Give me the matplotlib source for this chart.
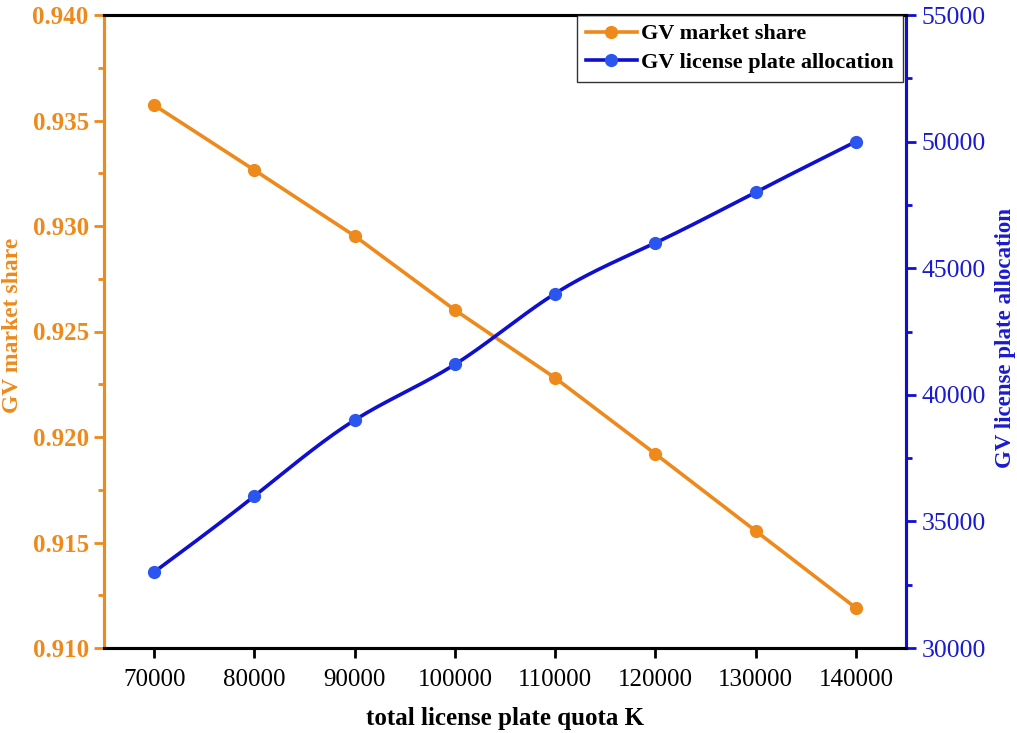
import numpy as np
import matplotlib
matplotlib.use("Agg")
import matplotlib.pyplot as plt
from matplotlib.ticker import MultipleLocator

quota = [70000, 80000, 90000, 100000, 110000, 120000, 130000, 140000]
market_share = [0.93573, 0.93265, 0.92953, 0.92602, 0.92280, 0.91920, 0.91555, 0.91190]
allocation = [33000, 36000, 39000, 41200, 44000, 46000, 48000, 50000]

ORANGE = "#EE8A1C"
BLUE_LINE = "#0F0FD0"
BLUE_MARK = "#2A55EE"
BLUE_TXT = "#1A1AD0"

plt.rcParams['font.family'] = ['Liberation Serif', 'DejaVu Serif']


def natural_spline(x, y, n=400):
    x = np.asarray(x, float); y = np.asarray(y, float)
    k = len(x); h = np.diff(x)
    A = np.zeros((k, k)); b = np.zeros(k)
    A[0, 0] = A[-1, -1] = 1
    for i in range(1, k - 1):
        A[i, i - 1] = h[i - 1]; A[i, i] = 2 * (h[i - 1] + h[i]); A[i, i + 1] = h[i]
        b[i] = 3 * ((y[i + 1] - y[i]) / h[i] - (y[i] - y[i - 1]) / h[i - 1])
    c = np.linalg.solve(A, b)
    xs = np.linspace(x[0], x[-1], n); ys = np.empty_like(xs)
    for j, xv in enumerate(xs):
        i = min(np.searchsorted(x, xv, side='right') - 1, k - 2)
        dx = xv - x[i]
        bi = (y[i + 1] - y[i]) / h[i] - h[i] * (2 * c[i] + c[i + 1]) / 3
        di = (c[i + 1] - c[i]) / (3 * h[i])
        ys[j] = y[i] + bi * dx + c[i] * dx ** 2 + di * dx ** 3
    return xs, ys


W, H = 1017, 733
fig = plt.figure(figsize=(W / 100, H / 100), dpi=100)
ax = fig.add_axes([104 / W, 1 - 648 / H, 802 / W, 633 / H])
ax2 = ax.twinx()

l1, = ax.plot(quota, market_share, color=ORANGE, lw=2.6, marker='o', ms=8.5,
              markerfacecolor=ORANGE, markeredgecolor=ORANGE, label='GV market share', zorder=3)
xs, ys = natural_spline(quota, allocation)
ax2.plot(xs, ys, color=BLUE_LINE, lw=2.6, zorder=3)
ax2.plot(quota, allocation, ls='none', marker='o', ms=8.5, color=BLUE_MARK, zorder=4)
l2, = ax2.plot([], [], color=BLUE_LINE, lw=2.6, marker='o', ms=8.5,
               markerfacecolor=BLUE_MARK, markeredgecolor=BLUE_MARK, label='GV license plate allocation')

ax.set_xlim(65000, 145000)
ax.set_ylim(0.910, 0.940)
ax2.set_ylim(30000, 55000)
ax.set_xticks(quota)
ax.yaxis.set_major_locator(MultipleLocator(0.005))
ax.yaxis.set_minor_locator(MultipleLocator(0.0025))
ax2.yaxis.set_major_locator(MultipleLocator(5000))
ax2.yaxis.set_minor_locator(MultipleLocator(2500))

ax.yaxis.set_major_formatter(matplotlib.ticker.FormatStrFormatter('%.3f'))

for a in (ax, ax2):
    for s in a.spines.values():
        s.set_linewidth(2.2)
ax.spines['left'].set_color(ORANGE)
ax2.spines['left'].set_color(ORANGE)
ax2.spines['right'].set_color(BLUE_LINE)
ax.spines['right'].set_color(BLUE_LINE)

ax.tick_params(axis='x', direction='out', length=7, width=2, labelsize=18, pad=8, colors='black')
ax.tick_params(axis='y', which='major', direction='out', length=7, width=2, colors=ORANGE, labelsize=18, pad=4)
ax.tick_params(axis='y', which='minor', direction='out', length=4, width=2, colors=ORANGE)
ax2.tick_params(axis='y', which='major', direction='out', length=7, width=2, colors=BLUE_LINE, labelsize=18.5, pad=4)
ax2.tick_params(axis='y', which='minor', direction='out', length=4, width=2, colors=BLUE_LINE)
for t in ax.get_yticklabels():
    t.set_fontweight('bold'); t.set_color(ORANGE)
for t in ax2.get_yticklabels():
    t.set_color(BLUE_TXT)

ax.set_xlabel('total license plate quota K', fontsize=18, fontweight='bold')
ax.xaxis.set_label_coords(0.5, -(707 - 648) / 633)
ax.xaxis.label.set_va('top')

fig.text(13 / W, 1 - 325 / H, 'GV market share', rotation=90, ha='center', va='center',
         fontsize=17, fontweight='bold', color=ORANGE)
fig.text(1005 / W, 1 - 338 / H, 'GV license plate allocation', rotation=90, ha='center', va='center',
         fontsize=16.5, fontweight='bold', color=BLUE_TXT)

leg = ax2.legend(handles=[l1, l2], loc='upper right', bbox_to_anchor=(0.996, 1.0),
                 prop={'weight': 'bold', 'size': 16}, frameon=True, fancybox=False,
                 borderpad=0.4, handlelength=2.3, handletextpad=0.2, labelspacing=0.35,
                 borderaxespad=0)
leg.get_frame().set_edgecolor('black')
leg.get_frame().set_linewidth(1.0)

fig.savefig('out.png', dpi=100, facecolor='white')
